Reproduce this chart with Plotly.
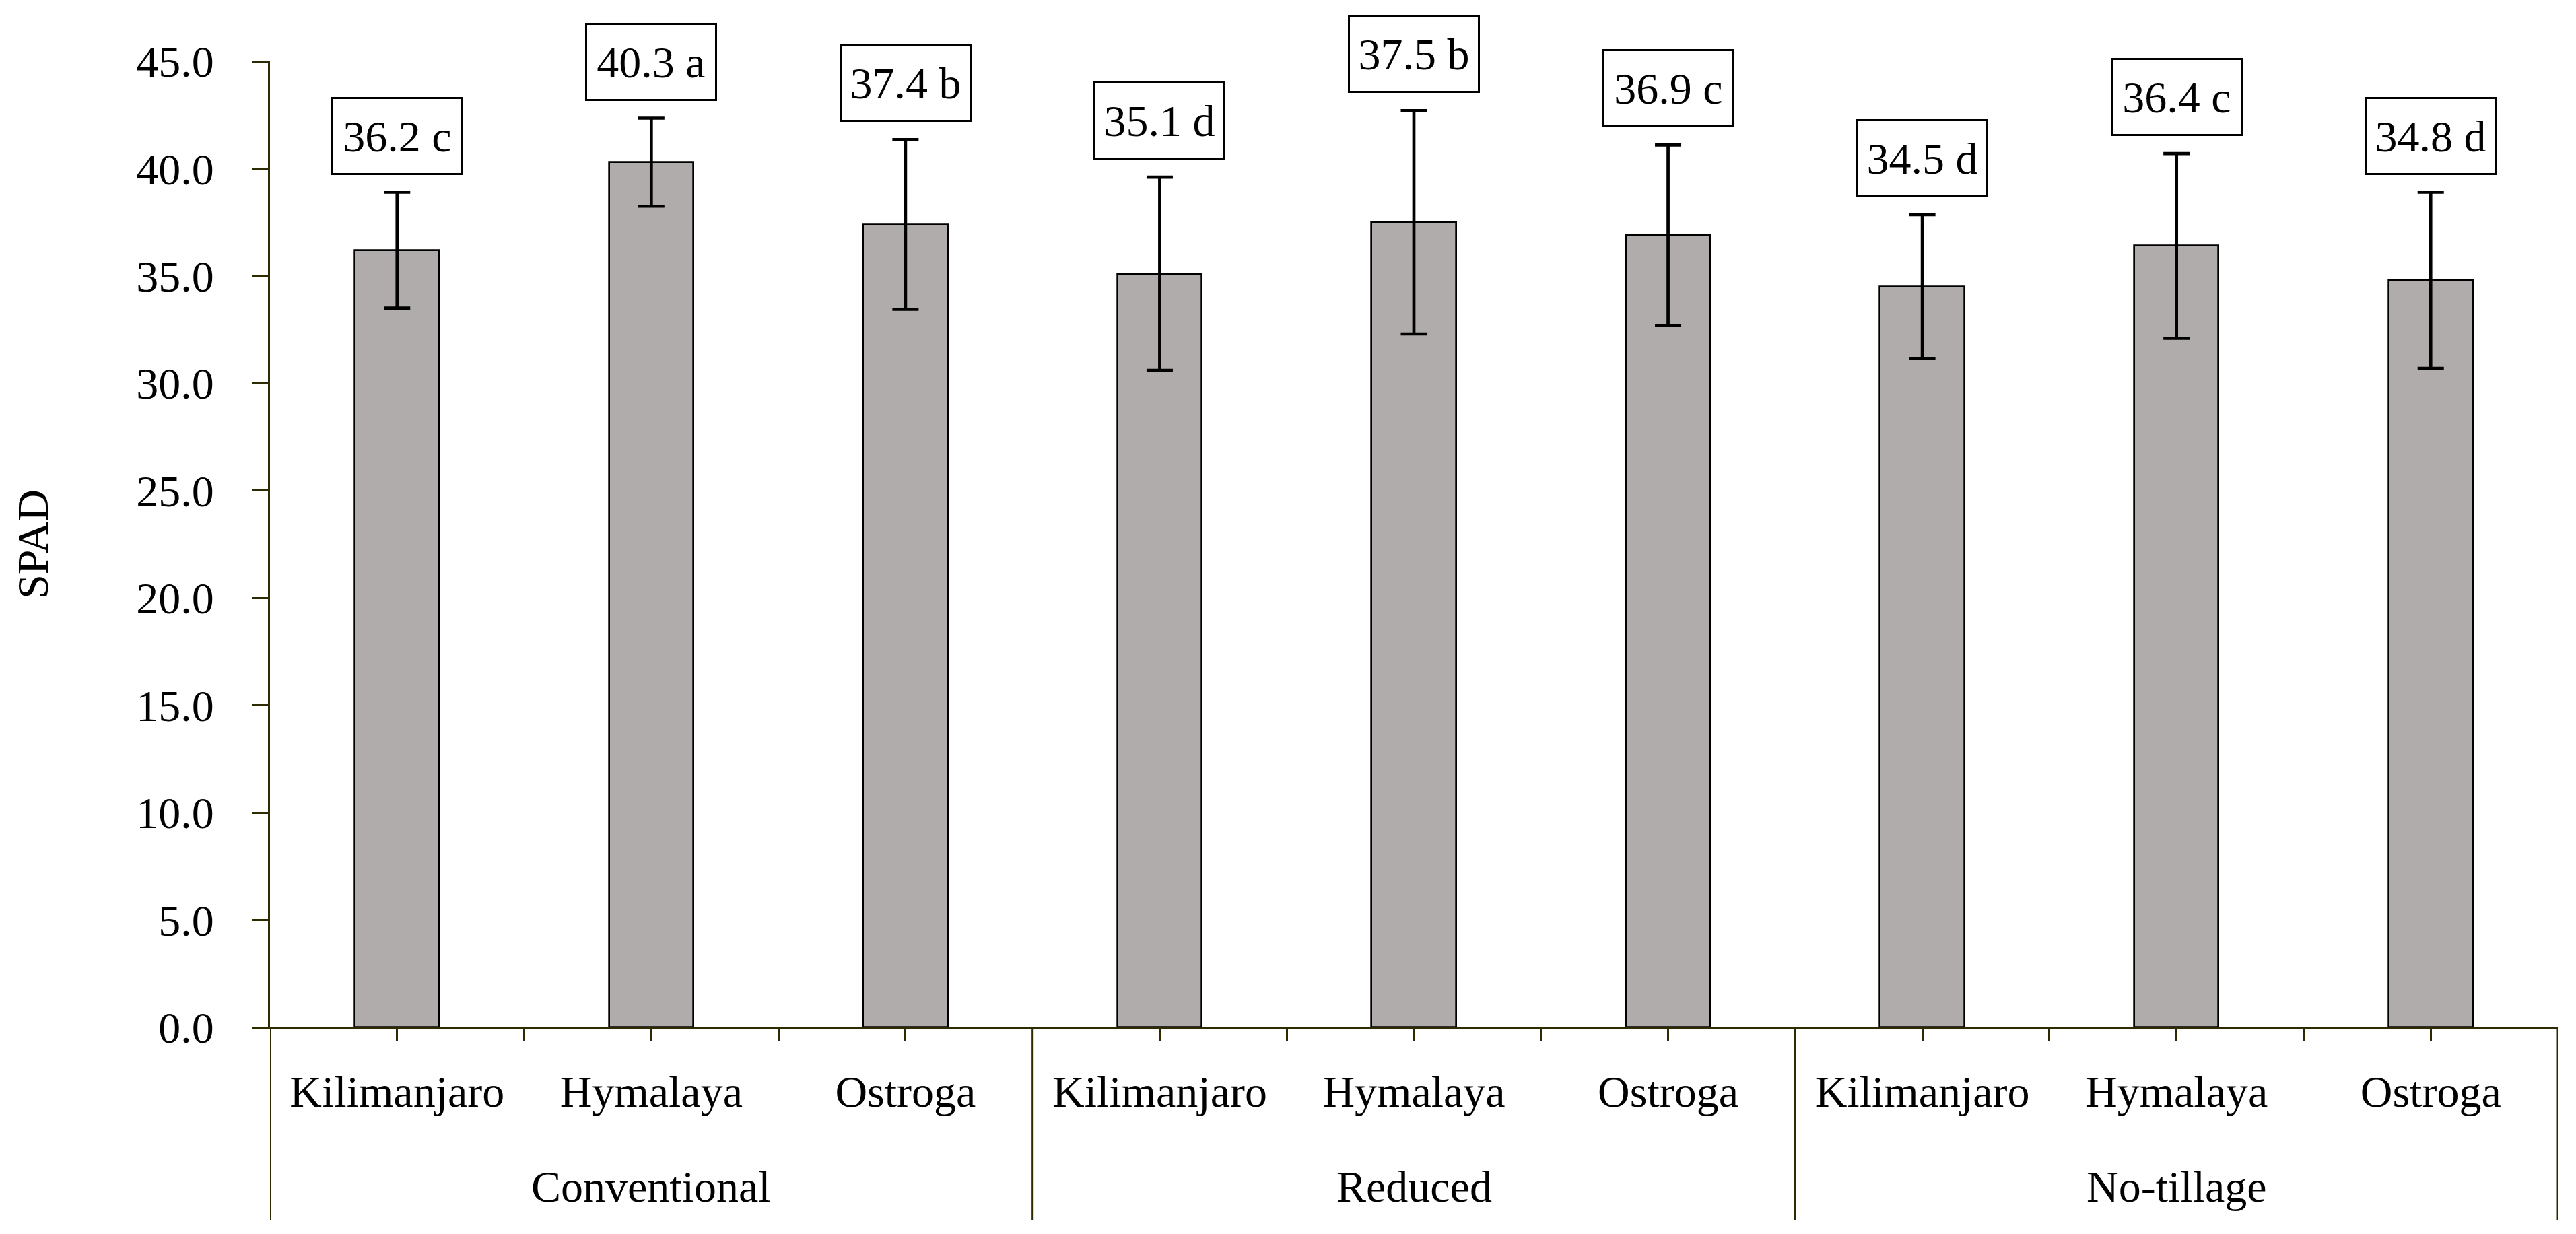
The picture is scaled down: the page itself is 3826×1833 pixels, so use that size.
import plotly.graph_objects as go

# data
tillage = ['Conventional', 'Reduced', 'No-tillage']
cultivars = ['Kilimanjaro', 'Hymalaya', 'Ostroga']
spad = [36.2, 40.3, 37.4, 35.1, 37.5, 36.9, 34.5, 36.4, 34.8]
spad_err = [2.7, 2.05, 3.95, 4.5, 5.2, 4.2, 3.35, 4.3, 4.1]
letters = ['c', 'a', 'b', 'd', 'b', 'c', 'd', 'c', 'd']

FONT = 'Palatino Linotype, Book Antiqua, Palatino, Liberation Serif, serif'
AXIS_COL = '#2f2b00'
FS = 66

n = len(spad)
xpos = [i + 0.5 for i in range(n)]
xlabels = [cultivars[i % len(cultivars)] for i in range(n)]

fig = go.Figure()
fig.add_trace(go.Bar(
    x=xpos, y=spad, width=0.332,
    marker=dict(color='#b0acab', line=dict(color='black', width=2.7)),
    error_y=dict(type='data', array=spad_err, visible=True,
                 color='black', thickness=4.7, width=19.5),
    showlegend=False,
))

# boxed value labels above the error bars
for x, v, e, l in zip(xpos, spad, spad_err, letters):
    fig.add_annotation(
        x=x, y=v + e, xref='x', yref='y', text=f'{v:.1f} {l}',
        showarrow=False, yanchor='bottom', yshift=26,
        width=186, height=106, borderpad=2,
        bordercolor='black', borderwidth=3, bgcolor='white',
        font=dict(family=FONT, size=FS, color='black'),
    )

# tillage group labels and dividers
ng = len(cultivars)
for g, name in enumerate(tillage):
    fig.add_annotation(
        x=g * ng + ng / 2, y=-0.1645, xref='x', yref='paper', text=name,
        showarrow=False, yanchor='middle',
        font=dict(family=FONT, size=FS, color='black'),
    )
for g in range(len(tillage) + 1):
    fig.add_shape(type='line', xref='x', yref='paper',
                  x0=g * ng, x1=g * ng, y0=0, y1=-0.1993,
                  line=dict(color=AXIS_COL, width=3))

fig.update_xaxes(
    range=[0, n], tickmode='array', tickvals=xpos, ticktext=xlabels,
    ticks='outside', ticklen=18, tickwidth=2.5, tickcolor=AXIS_COL,
    minor=dict(tickmode='array', tickvals=[i for i in range(1, n) if i % ng != 0],
               ticks='outside', ticklen=18, tickwidth=2.5, tickcolor=AXIS_COL),
    ticklabelstandoff=18,
    showline=True, linecolor=AXIS_COL, linewidth=3,
    showgrid=False, zeroline=False,
    tickfont=dict(family=FONT, size=FS, color='black'),
)
fig.update_yaxes(
    range=[0, 45], dtick=5, tickformat='.1f',
    ticks='outside', ticklen=23, tickwidth=3, tickcolor=AXIS_COL,
    ticklabelstandoff=44,
    showline=True, linecolor=AXIS_COL, linewidth=3,
    showgrid=False, zeroline=False,
    tickfont=dict(family=FONT, size=FS, color='black'),
    title=dict(text='SPAD', standoff=110,
               font=dict(family=FONT, size=FS, color='black')),
)
# page body adds 8 px on each side, so the figure is slightly smaller than the window
fig.update_layout(
    width=3810, height=1817,
    margin=dict(l=393, r=19, t=83, b=299),
    plot_bgcolor='white', paper_bgcolor='white',
    font=dict(family=FONT, size=FS, color='black'),
    bargap=0,
)

fig.write_html('out.html')
